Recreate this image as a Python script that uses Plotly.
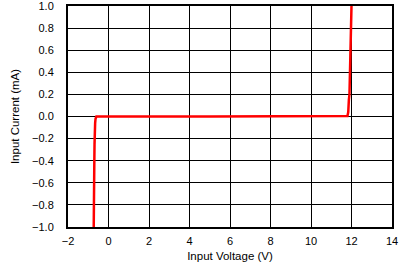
import plotly.graph_objects as go

voltage = [-0.73, -0.73, -0.72, -0.71, -0.70, -0.69, -0.69, -0.66, -0.66, -0.64, -0.62, -0.60,
           5.0, 11.70, 11.80, 11.84, 11.84, 11.87, 11.90, 11.93, 11.96, 11.97, 12.0]
current = [-1.0, -0.92, -0.84, -0.6, -0.4, -0.25, -0.22, -0.22, -0.06, -0.02, 0.0, 0.0,
           0.0, 0.0, 0.005, 0.04, 0.14, 0.15, 0.2, 0.4, 0.6, 0.8, 1.0]

x_ticks = [-2, 0, 2, 4, 6, 8, 10, 12, 14]
y_ticks = [-1.0, -0.8, -0.6, -0.4, -0.2, 0.0, 0.2, 0.4, 0.6, 0.8, 1.0]

fig = go.Figure()
fig.add_trace(go.Scatter(x=voltage, y=current, mode="lines",
                         line=dict(color="#ff0000", width=2.5), showlegend=False))

axis_common = dict(showgrid=True, gridcolor="black", gridwidth=1, zeroline=False,
                   showline=True, linecolor="black", linewidth=2, mirror=True,
                   ticks="", ticklabeloverflow="allow", automargin=False,
                   tickfont=dict(family="Liberation Sans, Arial", size=11, color="black"))

fig.update_xaxes(range=[-2, 14], tickvals=x_ticks, tickformat="d",
                 title=dict(text="Input Voltage (V)", standoff=6,
                            font=dict(family="Liberation Sans, Arial", size=11.5, color="black")),
                 ticklabelstandoff=3, **axis_common)
fig.update_yaxes(range=[-1.0, 1.0], tickvals=y_ticks, tickformat=".1f",
                 title=dict(text="Input Current (mA)", standoff=10,
                            font=dict(family="Liberation Sans, Arial", size=11.5, color="black")),
                 ticklabelstandoff=10, **axis_common)

fig.update_layout(width=406, height=266, margin=dict(l=68, r=14, t=6, b=39),
                  paper_bgcolor="white", plot_bgcolor="white")

fig.write_html("out.html")
